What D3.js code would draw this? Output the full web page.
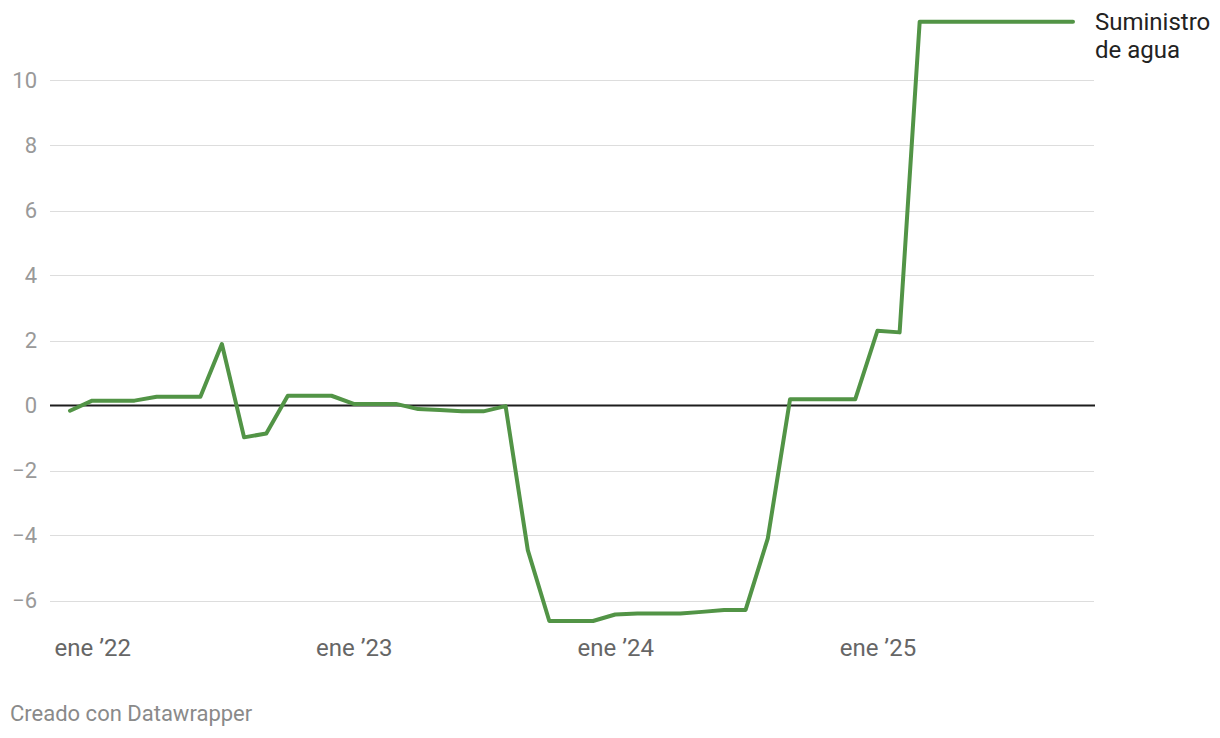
<!DOCTYPE html>
<html>
<head>
<meta charset="utf-8">
<script src="https://cdn.jsdelivr.net/npm/d3@7"></script>
<style>
  html, body { margin: 0; padding: 0; background: #fff; }
  svg { display: block; }
  text { font-family: Roboto, "Noto Sans", sans-serif; }
</style>
</head>
<body>
<svg id="chart" width="1220" height="738"></svg>
<script>
// ---- data ----
const startMonth = "2021-12";
const seriesName = ["Suministro", "de agua"];
const values = [
  -0.16,
  0.15, 0.15, 0.15, 0.27, 0.27, 0.27, 1.89, -0.98, -0.86, 0.30, 0.30, 0.30,
  0.05, 0.05, 0.05, -0.11, -0.14, -0.18, -0.18, -0.02, -4.45, -6.63, -6.63, -6.63,
  -6.43, -6.40, -6.40, -6.40, -6.35, -6.29, -6.29, -4.09, 0.19, 0.19, 0.19, 0.19,
  2.30, 2.25, 11.81, 11.81, 11.81, 11.81, 11.81, 11.81, 11.81, 11.81
];
const yTicks = [-6, -4, -2, 0, 2, 4, 6, 8, 10];
const xTickDates = ["2022-01", "2023-01", "2024-01", "2025-01"];
const monthAbbr = ["ene","feb","mar","abr","may","jun","jul","ago","sep","oct","nov","dic"];
const credit = "Creado con Datawrapper";

// ---- build ----
const parse = d3.timeParse("%Y-%m");
const start = parse(startMonth);
const data = values.map((v, i) => ({ date: d3.timeMonth.offset(start, i), value: v }));

const svg = d3.select("#chart");
const x = d3.scaleTime()
  .domain(d3.extent(data, d => d.date))
  .range([70, 1073]);
const y = d3.scaleLinear()
  .domain([-7, 12])
  .range([633, 15.5]);

const gridLeft = 50, gridRight = 1094;

// gridlines
svg.append("g").selectAll("line")
  .data(yTicks.filter(t => t !== 0))
  .join("line")
  .attr("x1", gridLeft).attr("x2", gridRight)
  .attr("y1", d => Math.round(y(d)) + 0.5).attr("y2", d => Math.round(y(d)) + 0.5)
  .attr("stroke", "#dddddd").attr("stroke-width", 1);

// y labels
svg.append("g").selectAll("text")
  .data(yTicks)
  .join("text")
  .attr("x", 37)
  .attr("y", d => y(d))
  .attr("dy", "0.35em")
  .attr("text-anchor", "end")
  .attr("font-size", 22)
  .attr("fill", "#999999")
  .text(d => d < 0 ? "\u2212" + Math.abs(d) : d);

// zero line
svg.append("line")
  .attr("x1", gridLeft).attr("x2", 1095)
  .attr("y1", y(0)).attr("y2", y(0))
  .attr("stroke", "#1d1d1d").attr("stroke-width", 2);

// x axis labels
const xAxis = d3.axisBottom(x)
  .tickValues(xTickDates.map(parse))
  .tickSize(0)
  .tickFormat(d => monthAbbr[d.getMonth()] + " \u2019" + d3.timeFormat("%y")(d));
const gx = svg.append("g")
  .call(xAxis);
gx.select(".domain").remove();
gx.selectAll("text")
  .attr("y", 656)
  .attr("dy", 0)
  .attr("font-size", 24)
  .attr("font-family", "Roboto, 'Noto Sans', sans-serif")
  .attr("fill", "#666666");

// line
const line = d3.line().x(d => x(d.date)).y(d => y(d.value));
svg.append("path")
  .datum(data)
  .attr("d", line)
  .attr("fill", "none")
  .attr("stroke", "#529446")
  .attr("stroke-width", 4)
  .attr("stroke-linejoin", "round")
  .attr("stroke-linecap", "round");

// series label
const lbl = svg.append("text")
  .attr("x", 1095)
  .attr("y", 30)
  .attr("font-size", 24)
  .attr("fill", "#222222");
lbl.selectAll("tspan")
  .data(seriesName)
  .join("tspan")
  .attr("x", 1095)
  .attr("dy", (d, i) => i === 0 ? 0 : 28)
  .text(d => d);

// credit
svg.append("text")
  .attr("x", 10)
  .attr("y", 721)
  .attr("font-size", 22)
  .attr("fill", "#8a8a8a")
  .text(credit);
</script>
</body>
</html>
